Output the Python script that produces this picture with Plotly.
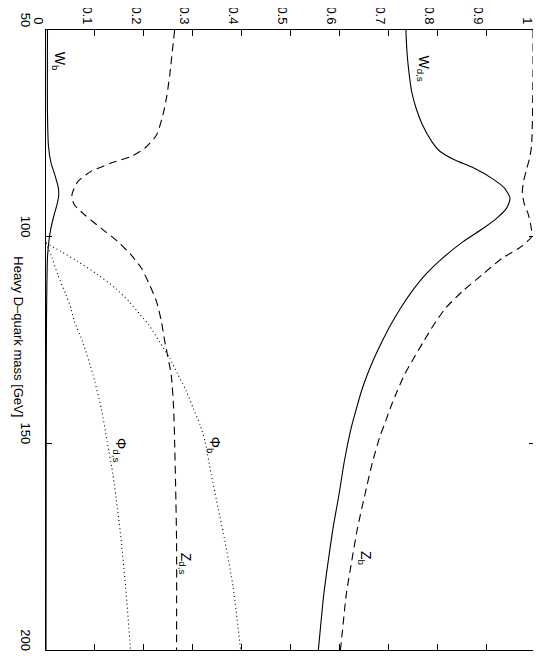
import plotly.graph_objects as go

# Heavy D-quark mass [GeV] (vertical axis, 50 at top) vs branching ratio (horizontal axis)
m_Wds = [50, 55, 60, 65, 69, 73, 77, 79.4, 81.4, 83.4, 85.9, 88.3, 90.7, 93.1, 95.5, 97.9, 101.2, 105.2,
         109.2, 113.3, 117.3, 121.3, 125.4, 129.4, 133.4, 137.4, 141.5, 146.3, 154.4, 162.5, 170.5, 178.6, 186.6, 200]
br_Wds = [0.736, 0.738, 0.742, 0.748, 0.757, 0.770, 0.789, 0.806, 0.835, 0.875, 0.912, 0.938, 0.949, 0.942,
          0.922, 0.895, 0.853, 0.811, 0.776, 0.748, 0.725, 0.705, 0.687, 0.671, 0.657, 0.645, 0.635, 0.624,
          0.610, 0.599, 0.587, 0.577, 0.568, 0.557]

m_Zb = [50, 60, 70, 78, 81, 84, 87, 89.5, 92, 94.5, 97, 100, 102.8, 105.2, 109.2, 113.3, 117.3, 121.3, 125.4,
        129.4, 133.4, 137.4, 141.5, 145.5, 147.9, 154.4, 162.5, 170.5, 178.6, 186.6, 197.9, 200]
br_Zb = [0.996, 0.996, 0.995, 0.993, 0.989, 0.982, 0.976, 0.974, 0.978, 0.986, 0.991, 0.993, 0.967, 0.933,
         0.892, 0.851, 0.817, 0.793, 0.772, 0.752, 0.733, 0.718, 0.704, 0.692, 0.684, 0.668, 0.652, 0.637,
         0.625, 0.614, 0.604, 0.602]

m_Zds = [50, 60.9, 66, 70.6, 75.4, 78.6, 80.6, 82.2, 84.2, 86.7, 89.9, 92.3, 94.7, 98, 101.2, 104.4, 107.6,
         111.7, 115.7, 120.5, 125.4, 133.4, 141.5, 149.5, 160, 173.7, 200]
br_Zds = [0.263, 0.253, 0.247, 0.239, 0.226, 0.202, 0.174, 0.133, 0.092, 0.065, 0.053, 0.058, 0.079, 0.113,
          0.147, 0.174, 0.195, 0.212, 0.226, 0.236, 0.243, 0.256, 0.261, 0.263, 0.265, 0.267, 0.267]

m_Wb = [50, 70, 78, 82, 85, 88, 90, 92, 95, 98, 101, 105, 110, 120, 140, 200]
br_Wb = [0.003, 0.003, 0.005, 0.010, 0.018, 0.025, 0.026, 0.023, 0.016, 0.010, 0.006, 0.003, 0.002, 0.001,
         0.0005, 0.0]

m_Phib = [101.5, 103.6, 106, 109.2, 112.5, 115.7, 118.9, 121.3, 125.4, 129.4, 133.4, 137.4, 141.5, 145.5,
          149.5, 157.6, 165.7, 173.7, 185, 200]
br_Phib = [0.0, 0.031, 0.065, 0.106, 0.142, 0.170, 0.193, 0.210, 0.232, 0.253, 0.270, 0.287, 0.301, 0.315,
           0.325, 0.338, 0.352, 0.366, 0.383, 0.398]

m_Phids = [101.5, 105, 109.2, 114.1, 117.3, 120.5, 125.4, 133.4, 141.5, 149.5, 157.6, 165.7, 173.7, 185, 200]
br_Phids = [0.0, 0.012, 0.024, 0.041, 0.051, 0.058, 0.075, 0.096, 0.113, 0.125, 0.137, 0.146, 0.154, 0.163,
            0.173]

value_ticks = [0, 0.1, 0.2, 0.3, 0.4, 0.5, 0.6, 0.7, 0.8, 0.9, 1]
value_tick_text = ["0", "0.1", "0.2", "0.3", "0.4", "0.5", "0.6", "0.7", "0.8", "0.9", "1"]
mass_ticks = [50, 100, 150, 200]

labels = [
    ("W<sub>b</sub>", 0.026, 57.6),
    ("W<sub>d,s</sub>", 0.771, 59.3),
    ("Z<sub>b</sub>", 0.651, 177.8),
    ("Z<sub>d,s</sub>", 0.286, 179.1),
    ("Φ<sub>b</sub>", 0.344, 150.4),
    ("Φ<sub>d,s</sub>", 0.151, 151.6),
]

FONT = "Liberation Sans, Arial, sans-serif"

fig = go.Figure()

def add(m, br, dash, shape="spline"):
    fig.add_trace(go.Scatter(
        x=br, y=m, mode="lines",
        line=dict(color="black", width=1.1, dash=dash, shape=shape, smoothing=0.6),
        showlegend=False, hoverinfo="skip"))

add(m_Wds, br_Wds, "solid")
add(m_Zb, br_Zb, "8px,5px")
add(m_Zds, br_Zds, "8px,5px")
add(m_Wb, br_Wb, "solid")
add(m_Phib, br_Phib, "1px,3px")
add(m_Phids, br_Phids, "1px,3px")

for txt, xv, yv in labels:
    fig.add_annotation(x=xv, y=yv, xref="x", yref="y", text=txt, showarrow=False,
                       textangle=90, font=dict(family=FONT, size=14, color="black"))

fig.add_annotation(x=-0.058, y=0.505, xref="paper", yref="paper", xanchor="center", yanchor="middle",
                   text="Heavy D\u2013quark mass [GeV]",
                   showarrow=False, textangle=90, font=dict(family=FONT, size=13, color="black"))

fig.update_xaxes(range=[0, 1], side="top", tickmode="array", tickvals=value_ticks, ticktext=value_tick_text,
                 tickangle=90, ticks="inside", ticklen=6, tickcolor="black", showline=True, linecolor="black",
                 linewidth=1, mirror="ticks", showgrid=False, zeroline=False, automargin=False,
                 ticklabelshift=-8,
                 tickfont=dict(family=FONT, size=13, color="black"))
fig.update_yaxes(range=[200, 50], tickmode="array", tickvals=mass_ticks, tickangle=90, ticks="inside",
                 ticklen=6, tickcolor="black", showline=True, linecolor="black", linewidth=1, mirror="ticks",
                 showgrid=False, zeroline=False, automargin=False, ticklabelshift=8, ticklabelstandoff=8,
                 tickfont=dict(family=FONT, size=13, color="black"))

fig.update_layout(width=541, height=660, margin=dict(l=38, r=14, t=22, b=18, autoexpand=False),
                  plot_bgcolor="white", paper_bgcolor="white")

fig.write_html("out.html")
